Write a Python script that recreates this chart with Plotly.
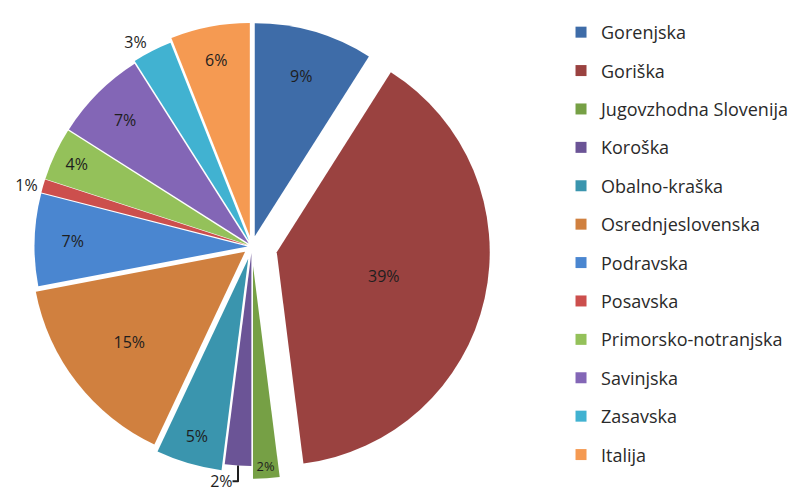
import plotly.graph_objects as go

regions = ["Gorenjska", "Goriška", "Jugovzhodna Slovenija", "Koroška", "Obalno-kraška",
           "Osrednjeslovenska", "Podravska", "Posavska", "Primorsko-notranjska",
           "Savinjska", "Zasavska", "Italija"]
shares = [9, 39, 2, 2, 5, 15, 7, 1, 4, 7, 3, 6]
colors = ["#3E6CA8", "#9A4240", "#76A045", "#6B5496", "#3A95AE", "#D0803F",
          "#4A86D0", "#CC4F4D", "#94C15A", "#8366B6", "#41B2D1", "#F59A52"]
pulls = [0.05, 0.12, 0.09, 0.03, 0.06, 0.04, 0.02, 0.02, 0.02, 0.02, 0.03, 0.05]
positions = ["inside", "inside", "inside", "outside", "inside", "inside",
             "inside", "outside", "inside", "inside", "outside", "inside"]

fig = go.Figure()
fig.add_trace(go.Pie(
    labels=regions, values=shares, sort=False, direction="clockwise", rotation=0,
    pull=pulls, marker=dict(colors=colors, line=dict(color="white", width=0)),
    texttemplate="%{value}%", textposition=positions, insidetextorientation="horizontal",
    textfont=dict(family="Open Sans", size=16, color="#1e1e1e"),
    domain=dict(x=[0.002, 0.609], y=[0.04, 1.0]), showlegend=False,
    hoverinfo="label+value",
))

for name, col in zip(regions, colors):
    fig.add_trace(go.Scatter(
        x=[None], y=[None], mode="markers", name=name, legendgroup=name,
        marker=dict(symbol="square", size=11, color=col),
    ))

fig.update_layout(
    width=798, height=497, paper_bgcolor="white", plot_bgcolor="white",
    margin=dict(l=0, r=0, t=0, b=0, autoexpand=False),
    xaxis=dict(visible=False), yaxis=dict(visible=False),
    legend=dict(x=0.693, y=0.988, xanchor="left", yanchor="top",
                font=dict(family="Open Sans", size=18, color="#2a2a2a"),
                tracegroupgap=12, itemwidth=30, bgcolor="rgba(0,0,0,0)"),
    font=dict(family="Open Sans"),
)
fig.write_html("out.html")
